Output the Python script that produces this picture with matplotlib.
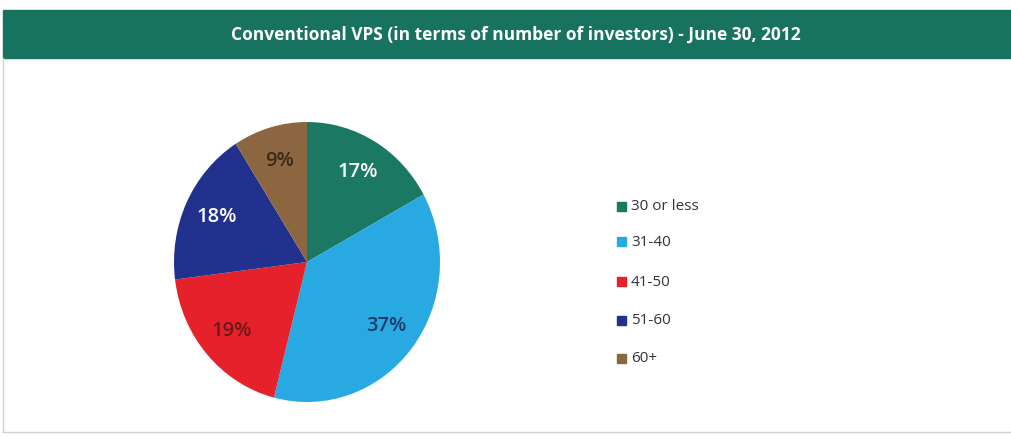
import matplotlib.pyplot as plt
from matplotlib.patches import Rectangle

labels = ['30 or less', '31-40', '41-50', '51-60', '60+']
shares = [17, 37, 19, 18, 9]
colors = ['#1b7862', '#29a9e1', '#e5212b', '#22308e', '#8c6641']
pct_colors = ['white', '#1d3c6e', '#6a1a1a', 'white', '#3a2818']
title = 'Conventional VPS (in terms of number of investors) - June 30, 2012'

W, H = 1011, 437
fig = plt.figure(figsize=(W / 100, H / 100), dpi=100)
fig.patch.set_facecolor('white')

# title bar and frame
fig.patches.append(Rectangle((3 / W, 1 - 58 / H), 1, 48 / H, transform=fig.transFigure,
                             color='#17735f', zorder=0))
fig.text(516 / W, 1 - 35 / H, title, color='white', fontsize=12.5, fontweight='bold',
         family='Open Sans', ha='center', va='center')
fig.add_artist(plt.Line2D([3 / W, 3 / W], [1 - 58 / H, 1 - 432 / H], color='#d0d0d0', lw=1))
fig.add_artist(plt.Line2D([3 / W, 1], [1 - 432 / H, 1 - 432 / H], color='#d0d0d0', lw=1))

# pie: center (307, 262), rx 133, ry 140
cx, cy, rx, ry = 307, 262, 133, 140
ax = fig.add_axes([(cx - rx) / W, 1 - (cy + ry) / H, 2 * rx / W, 2 * ry / H])
wedges, texts, autotexts = ax.pie(shares, colors=colors, startangle=90, counterclock=False,
                                  autopct='%d%%', pctdistance=0.75,
                                  textprops=dict(fontsize=14.5, family='Open Sans',
                                                 fontweight='semibold'))
for t, c in zip(autotexts, pct_colors):
    t.set_color(c)
ax.set_xlim(-1, 1)
ax.set_ylim(-1, 1)
ax.set_aspect('auto')

# legend
ys = [207, 242, 282, 321, 359]
for lab, col, y in zip(labels, colors, ys):
    fig.patches.append(Rectangle((617 / W, 1 - (y + 4) / H), 9 / W, 9 / H,
                                 transform=fig.transFigure, color=col))
    fig.text(631 / W, 1 - y / H, lab, fontsize=11, family='Open Sans',
             color='#333333', va='center', ha='left')

fig.savefig('out.png', dpi=100)
